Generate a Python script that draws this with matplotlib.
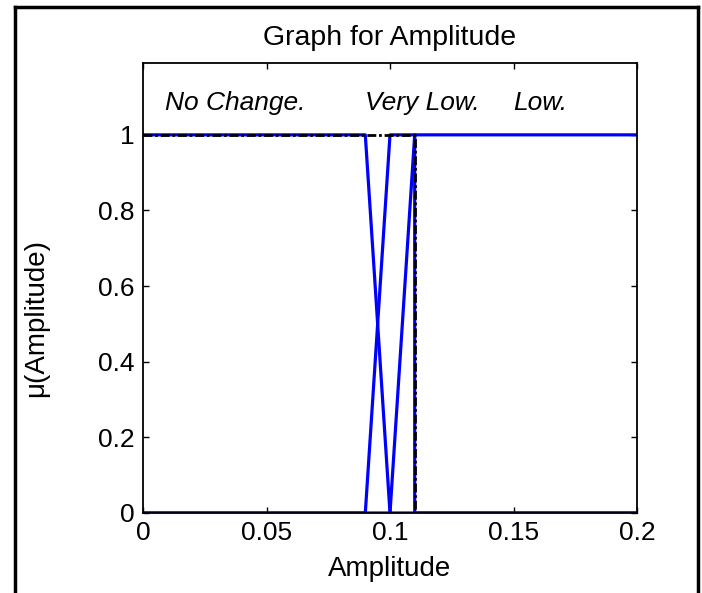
import numpy as np
import matplotlib
matplotlib.use("Agg")
import matplotlib.pyplot as plt
from matplotlib.lines import Line2D

# membership functions
x_nochange = [0, 0.09, 0.1, 0.2]
y_nochange = [1, 1, 0, 0]

x_verylow = [0, 0.09, 0.1, 0.11, 0.11, 0.2]
y_verylow = [0, 0, 1, 1, 0, 0]

x_low = [0, 0.1, 0.11, 0.2]
y_low = [0, 0, 1, 1]

# dash-dot overlay
x_dash = [0, 0.11, 0.11]
y_dash = [1, 1, 0]

mf_names = ['No Change.', 'Very Low.', 'Low.']
name_x = [0.009, 0.09, 0.15]
name_y = 1.085

xticks = [0, 0.05, 0.1, 0.15, 0.2]
xtick_labels = ['0', '0.05', '0.1', '0.15', '0.2']
yticks = [0, 0.2, 0.4, 0.6, 0.8, 1]
ytick_labels = ['0', '0.2', '0.4', '0.6', '0.8', '1']

plt.rcParams['font.family'] = ['Liberation Sans', 'DejaVu Sans']

fig = plt.figure(figsize=(7.02, 5.93), dpi=100)
ax = fig.add_axes([143/702, 80/593, 494/702, 450/593])

blue = (0, 0, 1)
lw = 2.3
ax.plot(x_nochange, y_nochange, color=blue, lw=lw)
ax.plot(x_verylow, y_verylow, color=blue, lw=lw)
ax.plot(x_low, y_low, color=blue, lw=lw)
ax.plot(x_dash, y_dash, color='black', lw=2.0, linestyle=(0, (3.2, 1, 1, 1)))

for name, tx in zip(mf_names, name_x):
    ax.text(tx, name_y, name, fontsize=19, style='italic', ha='left', va='center')

ax.set_xlim(0, 0.2)
ax.set_ylim(0, 1.19)
ax.set_xticks(xticks)
ax.set_xticklabels(xtick_labels)
ax.set_yticks(yticks)
ax.set_yticklabels(ytick_labels)
ax.tick_params(direction='in', length=4, width=1, labelsize=19, top=True, right=True,
               pad=6)
for s in ax.spines.values():
    s.set_linewidth(1.3)

ax.set_title('Graph for Amplitude', fontsize=20.5, pad=13)
ax.set_xlabel('Amplitude', fontsize=20, labelpad=8)
ax.set_ylabel('μ(Amplitude)', fontsize=20)
ax.yaxis.set_label_coords(-0.19, 0.433)

# outer frame (left, top, right)
fw = 2.5
fig.add_artist(Line2D([15/702, 15/702], [0, 1 - 7/593], transform=fig.transFigure, color='black', lw=fw))
fig.add_artist(Line2D([15/702, 698/702], [1 - 7/593, 1 - 7/593], transform=fig.transFigure, color='black', lw=fw))
fig.add_artist(Line2D([698/702, 698/702], [0, 1 - 7/593], transform=fig.transFigure, color='black', lw=fw))

fig.savefig('out.png', dpi=100)
